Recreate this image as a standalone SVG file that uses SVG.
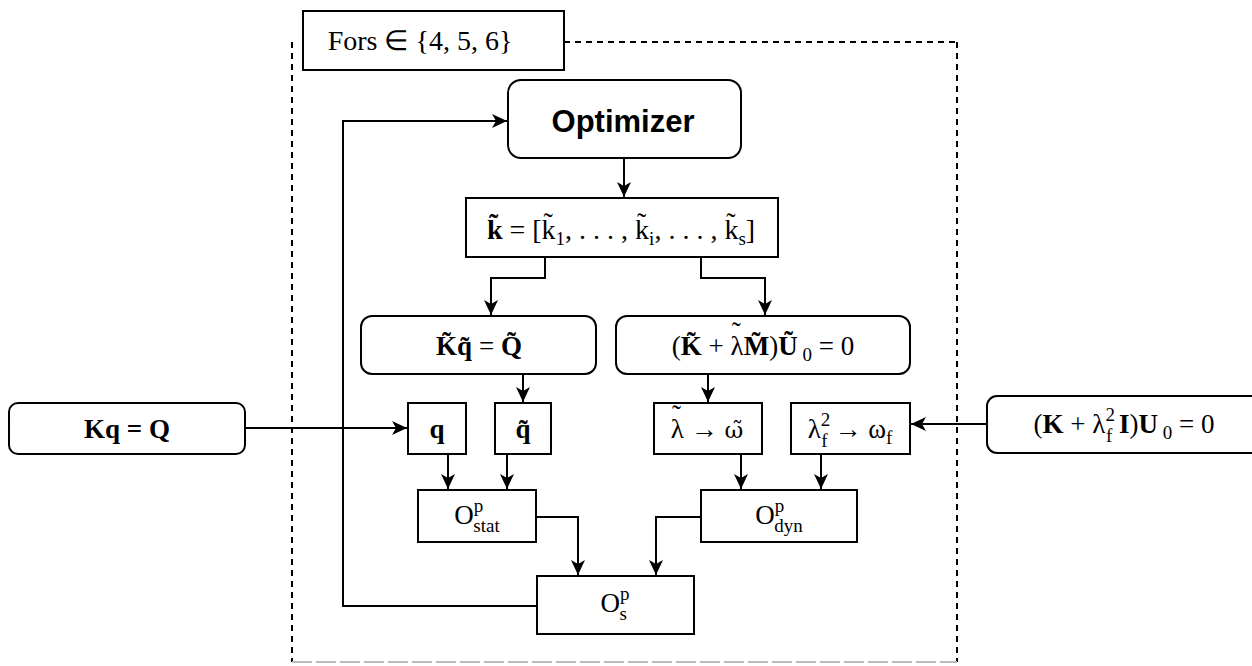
<svg xmlns="http://www.w3.org/2000/svg" width="1252" height="666" viewBox="0 0 1252 666">
<style>
.box{fill:#fff;stroke:#000;stroke-width:2}
.cn{fill:none;stroke:#000;stroke-width:2}
.m{font-family:"Liberation Serif","Times New Roman",serif;font-size:27px;fill:#000;text-anchor:middle}
.b{font-weight:bold}
.s{font-size:19px}
.g{font-family:"DejaVu Serif",serif;font-size:23px}
.opt{font-family:"Liberation Sans",Arial,sans-serif;font-size:31px;font-weight:bold;text-anchor:middle}
</style>
<defs>
<marker id="ah" markerUnits="userSpaceOnUse" markerWidth="16" markerHeight="16" refX="15" refY="8" orient="auto">
<path d="M0,1 L15,8 L0,15 L4,8 z" fill="#000"/>
</marker>
</defs>
<rect width="1252" height="666" fill="#fff"/>
<g id="loop-frame">
<path d="M292,42 V662 M957,42 V662 M564,42 H957" fill="none" stroke="#000" stroke-width="2" stroke-dasharray="6,5"/>
<path d="M292,662 H957" fill="none" stroke="#bbb" stroke-width="2" stroke-dasharray="20,4"/>
<rect class="box" x="303" y="11" width="261" height="59"/>
<text class="m" x="420" y="50" style="font-size:28px">Fors ∈ {4, 5, 6}</text>
</g>
<g id="connectors">
<path class="cn" d="M624,158 V197" marker-end="url(#ah)"/>
<path class="cn" d="M545,257 V278 H491 V315" marker-end="url(#ah)"/>
<path class="cn" d="M701,257 V278 H765 V315" marker-end="url(#ah)"/>
<path class="cn" d="M523,374 V402" marker-end="url(#ah)"/>
<path class="cn" d="M708,374 V402" marker-end="url(#ah)"/>
<path class="cn" d="M245,428 H407" marker-end="url(#ah)"/>
<path class="cn" d="M987,424 H911" marker-end="url(#ah)"/>
<path class="cn" d="M448,454 V489" marker-end="url(#ah)"/>
<path class="cn" d="M507,454 V489" marker-end="url(#ah)"/>
<path class="cn" d="M741,454 V489" marker-end="url(#ah)"/>
<path class="cn" d="M821,454 V489" marker-end="url(#ah)"/>
<path class="cn" d="M536,517 H578 V575" marker-end="url(#ah)"/>
<path class="cn" d="M701,517 H656 V575" marker-end="url(#ah)"/>
<path class="cn" d="M537,606 H343 V121 H507" marker-end="url(#ah)"/>
</g>
<g id="optimizer">
<rect class="box" x="508" y="80" width="233" height="78" rx="13"/>
<text class="opt" x="623" y="132">Optimizer</text>
</g>
<g id="k-vector">
<rect class="box" x="466" y="198" width="312" height="59"/>
<text class="m" x="621" y="239" style="font-size:28px"><tspan class="b">k̃</tspan> = [k̃<tspan class="s" dy="6">1</tspan><tspan dy="-6">, . . . , k̃</tspan><tspan class="s" dy="6">i</tspan><tspan dy="-6">, . . . , k̃</tspan><tspan class="s" dy="6">s</tspan><tspan dy="-6">]</tspan></text>
</g>
<g id="static-eq">
<rect class="box" x="361" y="316" width="235" height="58" rx="11"/>
<text class="m" x="479" y="355"><tspan class="b">K̃q̃</tspan> = <tspan class="b">Q̃</tspan></text>
</g>
<g id="eigen-eq">
<rect class="box" x="616" y="316" width="294" height="58" rx="11"/>
<text class="m" x="763" y="355">(<tspan class="b">K̃</tspan> + λ<tspan dx="-12" dy="-14">˜</tspan><tspan dx="3" dy="14" class="b">M̃</tspan>)<tspan class="b">Ũ</tspan><tspan class="s" dy="6"> 0</tspan><tspan dy="-6"> = 0</tspan></text>
</g>
<g id="kq-ref">
<rect class="box" x="9" y="403" width="236" height="51" rx="9"/>
<text class="m b" x="127" y="438">Kq = Q</text>
</g>
<g id="q">
<rect class="box" x="408" y="403" width="58" height="51"/>
<text class="m b" x="437" y="438">q</text>
</g>
<g id="q-tilde">
<rect class="box" x="495" y="403" width="56" height="51"/>
<text class="m b" x="523" y="438">q̃</text>
</g>
<g id="lambda-omega">
<rect class="box" x="654" y="403" width="108" height="51"/>
<text class="m" x="707" y="438">λ<tspan dx="-12" dy="-14">˜</tspan><tspan dx="3" dy="14"> → </tspan><tspan class="g">ω̃</tspan></text>
</g>
<g id="lambda-f">
<rect class="box" x="791" y="403" width="119" height="51"/>
<text class="m" x="850" y="438">λ<tspan class="s" dy="-12">2</tspan><tspan class="s" dx="-9" dy="21">f</tspan><tspan dy="-9"> → ω</tspan><tspan class="s" dy="6">f</tspan></text>
</g>
<g id="ref-eigen">
<rect class="box" x="987" y="396" width="290" height="57" rx="10"/>
<text class="m" x="1124" y="433">(<tspan class="b">K</tspan> + λ<tspan class="s" dy="-12">2</tspan><tspan class="s" dx="-9" dy="21">f</tspan><tspan class="b" dy="-9"> I</tspan>)<tspan class="b">U</tspan><tspan class="s" dy="6"> 0</tspan><tspan dy="-6"> = 0</tspan></text>
</g>
<g id="o-stat">
<rect class="box" x="418" y="490" width="118" height="52"/>
<text class="m" x="477" y="524">O<tspan class="s" dy="-12">p</tspan><tspan class="s" dx="-10" dy="20">stat</tspan></text>
</g>
<g id="o-dyn">
<rect class="box" x="701" y="490" width="156" height="52"/>
<text class="m" x="779" y="524">O<tspan class="s" dy="-12">p</tspan><tspan class="s" dx="-10" dy="20">dyn</tspan></text>
</g>
<g id="o-s">
<rect class="box" x="537" y="576" width="157" height="58"/>
<text class="m" x="615" y="612">O<tspan class="s" dy="-12">p</tspan><tspan class="s" dx="-10" dy="20">s</tspan></text>
</g>
</svg>
